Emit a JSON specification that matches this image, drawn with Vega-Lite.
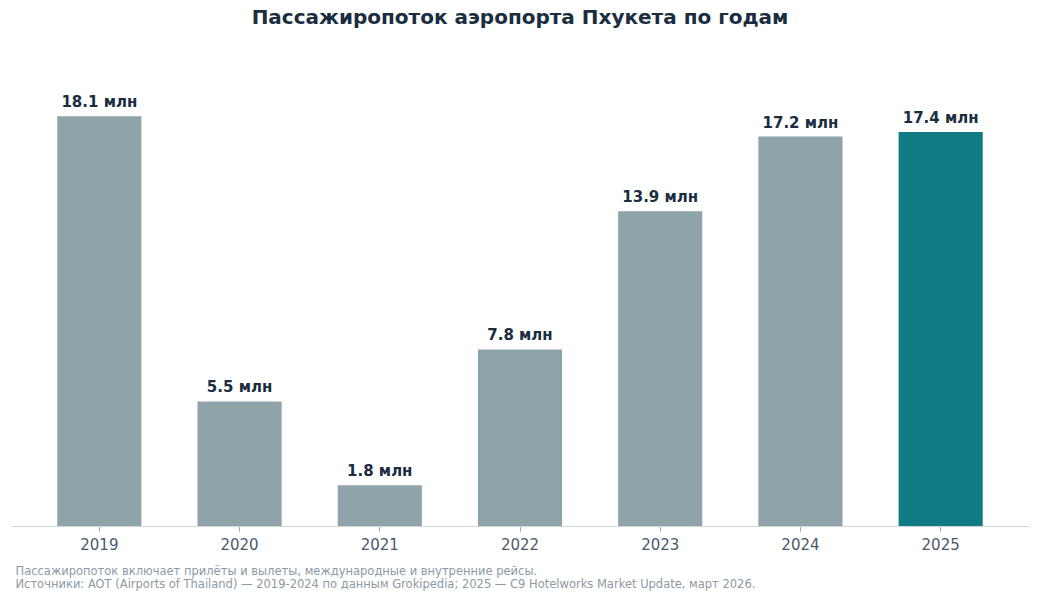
{
  "$schema": "https://vega.github.io/schema/vega-lite/v6.json",
  "autosize": "none",
  "width": 1018,
  "height": 471,
  "padding": {"left": 11, "top": 55, "right": 11, "bottom": 74},
  "background": "white",
  "config": {"font": "DejaVu Sans", "view": {"stroke": null}},
  "title": {
    "text": "Пассажиропоток аэропорта Пхукета по годам",
    "fontSize": 20,
    "fontWeight": "bold",
    "color": "#1b2d40",
    "anchor": "middle",
    "offset": 27
  },
  "data": {
    "values": [
      {"year": "2019", "value": 18.1, "label": "18.1 млн", "hl": "no"},
      {"year": "2020", "value": 5.5, "label": "5.5 млн", "hl": "no"},
      {"year": "2021", "value": 1.8, "label": "1.8 млн", "hl": "no"},
      {"year": "2022", "value": 7.8, "label": "7.8 млн", "hl": "no"},
      {"year": "2023", "value": 13.9, "label": "13.9 млн", "hl": "no"},
      {"year": "2024", "value": 17.2, "label": "17.2 млн", "hl": "no"},
      {"year": "2025", "value": 17.4, "label": "17.4 млн", "hl": "yes"}
    ]
  },
  "encoding": {
    "x": {
      "field": "year",
      "type": "nominal",
      "scale": {"paddingInner": 0.4, "paddingOuter": 0.33},
      "axis": {
        "title": ["Пассажиропоток включает прилёты и вылеты, международные и внутренние рейсы.", "Источники: AOT (Airports of Thailand) — 2019-2024 по данным Grokipedia; 2025 — C9 Hotelworks Market Update, март 2026."],
        "titleFontSize": 11.5,
        "titleFontWeight": "normal",
        "titleColor": "#8c9aa6",
        "titleAnchor": "start",
        "titleAlign": "left",
        "titleBaseline": "alphabetic",
        "titleX": 4,
        "titleY": 48,
        "titleLineHeight": 13,
        "labelAngle": 0,
        "labelFontSize": 15,
        "labelColor": "#4a5a6a",
        "labelPadding": 6,
        "domainColor": "#cfd6db",
        "domainWidth": 1,
        "tickColor": "#9aa5ad",
        "tickSize": 5,
        "grid": false
      }
    },
    "y": {
      "field": "value",
      "type": "quantitative",
      "scale": {"domain": [0, 20.8], "nice": false},
      "axis": null
    }
  },
  "layer": [
    {
      "mark": {"type": "bar"},
      "encoding": {
        "color": {
          "field": "hl",
          "type": "nominal",
          "scale": {"domain": ["no", "yes"], "range": ["#8fa3ab", "#0e7b85"]},
          "legend": null
        }
      }
    },
    {
      "mark": {"type": "text", "baseline": "bottom", "dy": -6, "fontSize": 15, "fontWeight": "bold", "color": "#1b2d40"},
      "encoding": {"text": {"field": "label"}}
    }
  ]
}
